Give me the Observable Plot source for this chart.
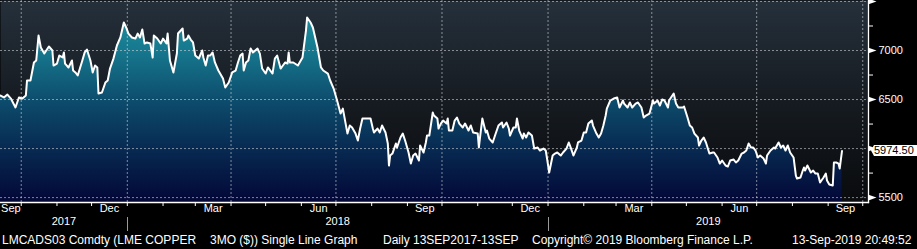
<!DOCTYPE html>
<html><head><meta charset="utf-8">
<script src="https://cdn.jsdelivr.net/npm/d3@7"></script>
<script src="https://cdn.jsdelivr.net/npm/@observablehq/plot@0.6"></script>
<style>
html,body{margin:0;padding:0;background:#000;}
#wrap{position:relative;width:917px;height:249px;background:#000;overflow:hidden;font-family:"Liberation Sans",Arial,sans-serif;}
#chart svg{display:block;}
#cap{position:absolute;left:0;top:231px;width:917px;height:18px;color:#fff;font-size:12px;line-height:18px;}
#cap span{position:absolute;top:0;white-space:pre;}
</style></head><body>
<div id="wrap"><div id="chart"></div><div id="cap"></div></div>
<script>
// ---- data (LMCADS03 Comdty, LME copper 3M) ----
const startDate = "2017-09-13";          // first trading day shown
const axisEndDate = "2019-10-06";        // right end of the time axis
const dayOffsets = [0,3,6,9,13,16,19,22,23,26,29,31,33,35,38,42,45,46,49,51,54,55,56,59,62,63,65,67,71,73,75,78,80,82,84,85,88,91,93,95,98,101,104,107,109,111,114,117,119,121,123,125,127,130,132,133,136,139,141,144,145,147,150,153,154,158,159,162,163,165,167,169,172,175,176,178,180,182,184,186,189,193,195,198,201,204,206,208,210,211,213,215,217,219,223,225,227,230,232,236,238,240,243,245,247,249,250,251,254,258,262,265,266,269,271,275,278,280,284,286,289,292,295,297,301,303,305,308,310,312,314,318,321,323,324,327,329,331,334,336,337,338,340,343,344,347,349,351,354,356,358,360,363,364,367,369,370,372,375,376,379,380,382,384,387,388,389,392,394,396,398,401,403,406,408,410,414,415,416,418,421,422,424,427,429,432,435,436,439,441,442,445,447,448,450,453,454,456,458,461,463,466,468,471,473,474,476,479,481,483,486,488,491,493,495,497,500,501,504,506,508,510,513,514,517,519,521,523,525,526,529,532,535,537,540,541,544,546,548,551,553,556,558,560,563,566,567,570,572,574,576,579,580,584,586,588,592,593,596,598,600,602,605,606,608,610,612,615,618,619,622,624,626,629,631,633,636,638,640,643,645,647,649,651,653,655,657,659,662,664,665,668,671,672,675,677,679,681,683,685,688,690,691,694,696,697,698,700,703,705,707,709,711,714,716,717,719,722,723,725,727,728,730];
const prices = [6541,6521,6551,6510,6419,6521,6510,6541,6694,6694,6878,6898,7153,7031,6969,7041,7000,6847,6867,6949,6929,6980,6867,6827,6898,6796,6776,6745,6898,6980,7010,6898,6776,6847,6827,6561,6572,6674,6694,6816,6918,7051,7133,7286,7235,7173,7133,7122,7173,7133,7214,7071,7082,7071,6929,7153,7122,7071,7122,7071,7173,6898,6776,6969,7173,7224,7102,7122,7153,7112,7082,6949,6918,7000,6929,6847,6949,6949,6980,6878,6796,6714,6623,6674,6776,6796,6878,6949,6969,6796,6878,6898,7020,6980,7020,6969,6816,6765,6827,6765,6918,6949,6816,6847,6878,6867,6980,6878,6878,6847,6929,7204,7337,7286,7235,7031,6827,6796,6765,6694,6612,6490,6357,6408,6153,6235,6215,6153,6082,6204,6306,6306,6306,6204,6164,6204,6164,6235,6164,6051,5827,5929,5949,6051,6011,6113,6153,6082,5960,5847,5929,5949,5878,6031,5960,6062,6133,6133,6368,6337,6306,6204,6255,6286,6255,6306,6184,6184,6286,6317,6255,6215,6255,6184,6235,6164,6153,6011,6113,6306,6164,6184,6102,6062,6133,6235,6266,6215,6266,6204,6133,6215,6215,6306,6184,6102,6153,6113,6164,6133,6000,6011,5980,6000,5980,5909,5756,5929,5949,5960,5929,5960,6000,6062,6000,5929,6011,6062,6082,6164,6164,6255,6286,6235,6153,6113,6153,6235,6337,6408,6490,6510,6521,6419,6490,6459,6419,6470,6419,6459,6470,6419,6317,6337,6357,6490,6459,6490,6439,6500,6490,6419,6490,6561,6459,6419,6419,6429,6317,6235,6215,6153,6113,6031,6082,6113,6062,5949,5960,5960,5909,5847,5878,5827,5817,5878,5888,5858,5878,5949,5960,5980,6051,6011,6011,5980,5909,5929,5898,5847,5929,5980,6011,6000,6062,6011,6031,5980,6031,5960,5909,5725,5694,5705,5776,5807,5776,5827,5756,5776,5745,5745,5654,5705,5745,5674,5633,5623,5858,5858,5847,5796,5974.5];
const lastPriceLabel = "5974.50";
const yDomain = [5450, 7510];
const yMajorTicks = [5500, 6000, 6500, 7000, 7500];
const yLabelTicks = [5500, 6500, 7000];   // 6000 is hidden behind the last-price box
const yMinorTicks = [5750, 6250, 6750, 7250];
const monthLabels = ["Sep","Dec","Mar","Jun","Sep","Dec","Mar","Jun","Sep"];
const monthLabelStarts = ["2017-09-01","2017-12-01","2018-03-01","2018-06-01","2018-09-01","2018-12-01","2019-03-01","2019-06-01","2019-09-01"];
const yearLabels = ["2017","2018","2019"];
const captionParts = ["LMCADS03 Comdty (LME COPPER", "3MO ($)) Single Line Graph", "Daily 13SEP2017-13SEP", "Copyright\u00A9 2019 Bloomberg Finance L.P.", "13-Sep-2019 20:49:52"];

// ---- layout ----
const captionLeft = [2, 210, 383, 532, 792];
const W = 917, H = 231;

const t0 = new Date(startDate + "T00:00:00Z");
const tEnd = new Date(axisEndDate + "T00:00:00Z");
const data = dayOffsets.map((d, i) => ({date: d3.utcDay.offset(t0, d), price: prices[i]}));
const last = data[data.length - 1];

const monthTicks = d3.utcMonth.range(d3.utcMonth.ceil(t0), tEnd);
const quarterTicks = monthTicks.filter(d => d.getUTCMonth() % 3 === 0);
const yearStarts = d3.utcYear.range(d3.utcYear.ceil(t0), tEnd);

const clampMid = (a, b) => {
  const s = Math.max(+a, +t0), e = Math.min(+b, +tEnd);
  return new Date((s + e) / 2);
};
const monthData = monthLabels.map((m, i) => {
  const s = new Date(monthLabelStarts[i] + "T00:00:00Z");
  return {label: m, mid: clampMid(s, d3.utcMonth.offset(s, 1))};
});
const yearData = yearLabels.map(y => {
  const s = new Date(y + "-01-01T00:00:00Z");
  return {label: y, mid: clampMid(s, d3.utcYear.offset(s, 1))};
});

const tri = {draw(ctx) { ctx.moveTo(0, -2.8); ctx.lineTo(8, 0); ctx.lineTo(0, 2.8); ctx.closePath(); }};
const gridStyle = {stroke: "#d0d4d8", strokeOpacity: 0.6, strokeDasharray: "2,2", strokeWidth: 1};

const plot = Plot.plot({
  width: W, height: H,
  marginLeft: 0, marginRight: 49, marginTop: 0, marginBottom: 29,
  style: {background: "#000", color: "#fff", fontFamily: "'Liberation Sans', Arial, sans-serif", fontSize: "11px", overflow: "visible"},
  x: {type: "utc", domain: [t0, tEnd]},
  y: {domain: yDomain},
  marks: [
    Plot.frame({fill: "url(#bgGrad)", stroke: null}),
    Plot.areaY(data, {x: "date", y1: yDomain[0], y2: "price", fill: "url(#areaGrad)", curve: "linear"}),
    Plot.gridX({ticks: quarterTicks, ...gridStyle}),
    Plot.gridY({ticks: yMajorTicks, ...gridStyle}),
    Plot.lineY(data, {x: "date", y: "price", stroke: "#fff", strokeWidth: 2, strokeLinejoin: "round"}),
    Plot.frame({anchor: "right", stroke: "#fff", strokeWidth: 1.3}),
    Plot.frame({anchor: "bottom", stroke: "#fff", strokeWidth: 1.3}),
    Plot.axisX({ticks: monthTicks, tickSize: 4, tickFormat: () => "", stroke: "#fff", label: null}),
    Plot.axisY({anchor: "right", ticks: yMinorTicks, tickSize: 4, tickFormat: () => "", stroke: "#fff", label: null}),
    Plot.axisY({anchor: "right", ticks: yLabelTicks, tickSize: 0, tickPadding: 10, tickFormat: d3.format("d"), fill: "#fff", fontSize: 11, label: null}),
    Plot.dot(yMajorTicks, {y: d => d, frameAnchor: "right", symbol: tri, r: 3, fill: "#fff", stroke: null}),
    Plot.text(monthData, {x: "mid", text: "label", frameAnchor: "bottom", dy: 9, fill: "#fff", fontSize: 11}),
    Plot.text(yearData, {x: "mid", text: "label", frameAnchor: "bottom", dy: 22, fill: "#fff", fontSize: 11})
  ]
});

const svg = d3.select(plot);
svg.insert("defs", ":first-child").html(`
  <linearGradient id="bgGrad" gradientUnits="userSpaceOnUse" x1="0" y1="0" x2="0" y2="202">
    <stop offset="0" stop-color="#25303b"/>
    <stop offset="0.5" stop-color="#161b21"/>
    <stop offset="1" stop-color="#090b0d"/>
  </linearGradient>
  <linearGradient id="areaGrad" gradientUnits="userSpaceOnUse" x1="0" y1="0" x2="0" y2="202">
    <stop offset="0" stop-color="#2197a6"/>
    <stop offset="0.25" stop-color="#16788e"/>
    <stop offset="0.5" stop-color="#0d4c6c"/>
    <stop offset="0.75" stop-color="#072850"/>
    <stop offset="1" stop-color="#030737"/>
  </linearGradient>`);

// overlays positioned through the plot's own scales
const xs = plot.scale("x"), ysc = plot.scale("y");
const over = svg.append("g").attr("text-anchor", "start");
yearStarts.forEach(d => {
  const x = Math.round(xs.apply(d)) + 0.5;
  over.append("line").attr("x1", x).attr("x2", x).attr("y1", 217).attr("y2", 231)
    .attr("stroke", "#9a9a9a").attr("stroke-width", 1);
});
const yv = ysc.apply(last.price);
const bx = W - 49 + 3;
over.append("path")
  .attr("d", `M${bx},${yv} L${bx + 3},${yv - 5.5} L${W},${yv - 5.5} L${W},${yv + 5.5} L${bx + 3},${yv + 5.5} Z`)
  .attr("fill", "#fff");
over.append("text").attr("x", bx + 3).attr("y", yv).attr("dy", "0.35em")
  .attr("text-anchor", "start").attr("fill", "#000").attr("font-size", 11).text(lastPriceLabel);

document.getElementById("chart").appendChild(plot);

const cap = d3.select("#cap");
captionParts.forEach((t, i) => cap.append("span").style("left", captionLeft[i] + "px").text(t));
</script>
</body></html>
